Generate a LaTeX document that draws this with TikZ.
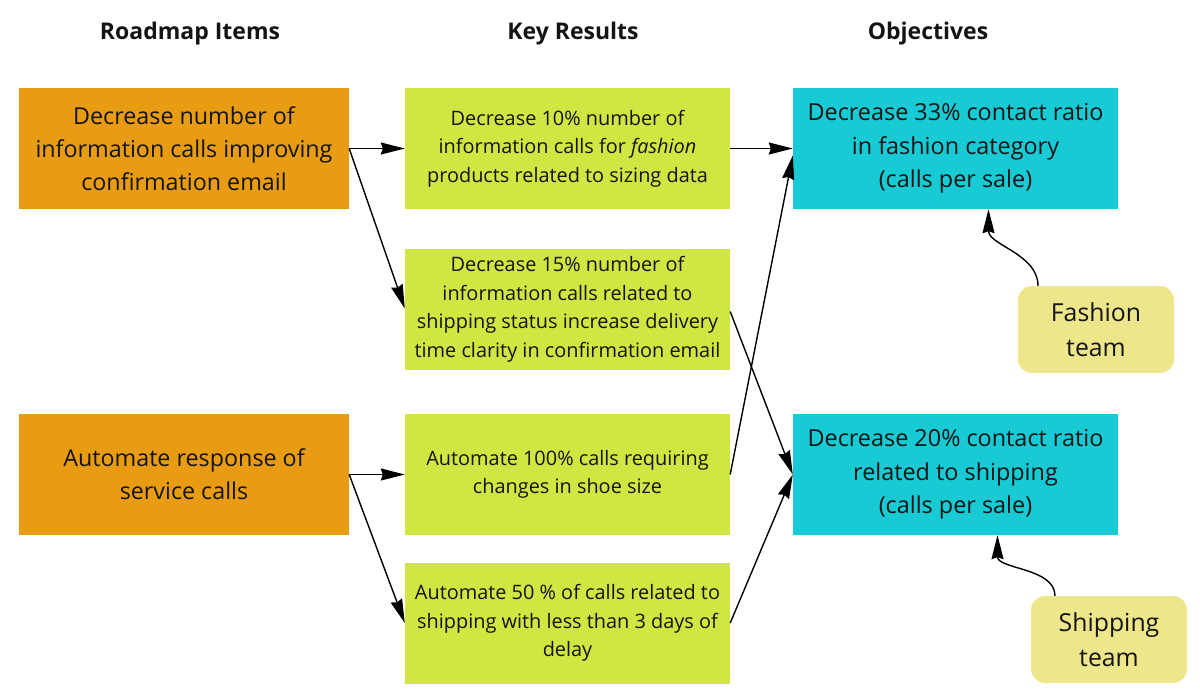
\documentclass[tikz,border=0pt]{standalone}
\usepackage{fontspec}
\setmainfont{Open Sans}
\usepackage{xcolor}
\definecolor{cItem}{HTML}{E89C13}
\definecolor{cKR}{HTML}{D1E643}
\definecolor{cObj}{HTML}{17CAD3}
\definecolor{cTeam}{HTML}{EDE68A}
\definecolor{cText}{HTML}{141414}
\usetikzlibrary{positioning,arrows.meta,calc}
\tikzset{
  node-head/.style={text=cText,font=\bfseries\fontsize{23}{28}\selectfont},
  node-item/.style={fill=cItem,text=cText,inner sep=0pt,align=center,
    minimum width=330pt,minimum height=121pt,font=\fontsize{23.3}{33}\selectfont},
  node-kr/.style={fill=cKR,text=cText,inner sep=0pt,align=center,
    minimum width=325pt,minimum height=121pt,font=\fontsize{19.9}{28.5}\selectfont},
  node-obj/.style={fill=cObj,text=cText,inner sep=0pt,align=center,
    minimum width=325pt,minimum height=121pt,font=\fontsize{23.4}{33.5}\selectfont},
  node-team/.style={fill=cTeam,text=cText,inner sep=0pt,align=center,rounded corners=14pt,
    minimum width=156pt,minimum height=87pt,font=\fontsize{24.8}{35}\selectfont},
  arrow/.style={-{Stealth[length=24pt,width=12pt,inset=2pt]},line width=1.4pt,draw=black},
}

\begin{document}
\begin{tikzpicture}[x=1pt,y=-1pt]
  \useasboundingbox (0,0) rectangle (1200,697);
  % column titles
  \foreach \name/\x/\txt in {hItems/190/Roadmap Items, hKR/573/Key Results, hObj/928/Objectives}
    \node[node-head] (\name) at (\x,34) {\txt};
  % roadmap items
  \node[node-item] (R1) at (184,148.5) {Decrease number of\\information calls improving\\confirmation email};
  \node[node-item] (R2) at (184,474.5) {Automate response of\\service calls};
  % key results
  \node[node-kr] (K1) at (567.5,148.5) {Decrease 10\% number of\\information calls for \textit{fashion}\\products related to sizing data};
  \node[node-kr] (K2) at (567.5,309.5) {Decrease 15\% number of\\information calls related to\\shipping status increase delivery\\time clarity in confirmation email};
  \node[node-kr] (K3) at (567.5,474.5) {Automate 100\% calls requiring\\changes in shoe size};
  \node[node-kr] (K4) at (567.5,623) {Automate 50 \% of calls related to\\shipping with less than 3 days of\\delay};
  % objectives
  \node[node-obj] (O1) at (955.5,148.5) {Decrease 33\% contact ratio\\in fashion category\\(calls per sale)};
  \node[node-obj] (O2) at (955.5,474.5) {Decrease 20\% contact ratio\\related to shipping\\(calls per sale)};
  % teams
  \node[node-team] (Fashion) at (1096,329.5) {Fashion\\team};
  \node[node-team] (Shipping) at (1109,639.5) {Shipping\\team};

  \draw[arrow] (R1.east) -- (K1.west);
  \draw[arrow] (R1.east) -- ([yshift=1pt]K2.west);
  \draw[arrow] (R2.east) -- (K3.west);
  \draw[arrow] (R2.east) -- (K4.west);
  \draw[arrow] (K1.east) -- (O1.west);
  \draw[arrow] ([yshift=-2pt]K2.east) -- (O2.west);
  \draw[arrow] (K3.east) -- ([yshift=-7pt]O1.west);
  \draw[arrow] (K4.east) -- (O2.west);
  \draw[arrow] ([xshift=-58pt]Fashion.north) .. controls +(0,-32) and +(0,36) .. ([xshift=33pt]O1.south);
  \draw[arrow] ([xshift=-54pt]Shipping.north) .. controls +(0,-28) and +(0,34) .. ([xshift=42pt]O2.south);
\end{tikzpicture}
\end{document}
